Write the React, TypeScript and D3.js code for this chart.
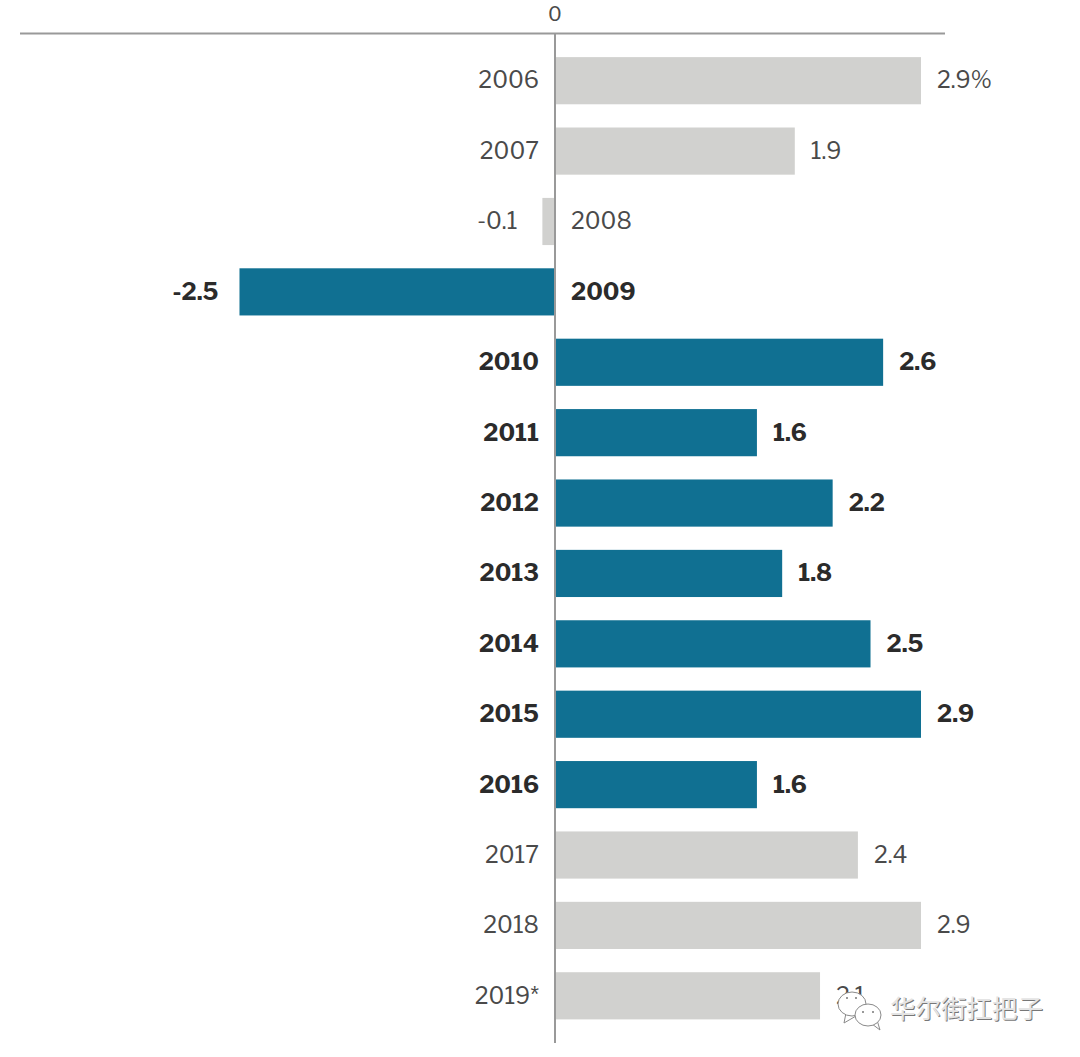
import React from 'react';
import * as d3 from 'd3';

const years = ['2006', '2007', '2008', '2009', '2010', '2011', '2012', '2013', '2014', '2015', '2016', '2017', '2018', '2019*'];
const values = [2.9, 1.9, -0.1, -2.5, 2.6, 1.6, 2.2, 1.8, 2.5, 2.9, 1.6, 2.4, 2.9, 2.1];
const valueLabels = ['2.9%', '1.9', '-0.1', '-2.5', '2.6', '1.6', '2.2', '1.8', '2.5', '2.9', '1.6', '2.4', '2.9', '2.1'];
const highlighted = ['2009', '2010', '2011', '2012', '2013', '2014', '2015', '2016'];
const watermark = '华尔街扛把子';

const width = 1080;
const height = 1057;
const font = '"Libre Franklin", "Open Sans", "Liberation Sans", sans-serif';

// wechat logo + account name pasted over the last row
function Watermark() {
  const bubble = { fill: '#fff', stroke: '#8a8a8a', strokeWidth: 1 };
  const cjk = '"Noto Sans CJK SC", sans-serif';
  return (
    <g>
      <path d="M846 1013 L844 1023 L856 1016 Z" {...bubble} />
      <ellipse cx={852} cy={1004} rx={14} ry={12} {...bubble} />
      <path d="M872 1024 L880 1030 L877 1020 Z" {...bubble} />
      <ellipse cx={868} cy={1015} rx={13} ry={11} {...bubble} />
      <circle cx={863} cy={1012} r={1} fill="#777" />
      <circle cx={873} cy={1012} r={1} fill="#777" />
      <circle cx={847} cy={998} r={1} fill="#777" />
      <circle cx={856} cy={998} r={1} fill="#777" />
      <text x={1044} y={1019} textAnchor="end" fontSize={25.5} fontFamily={cjk} fill="#777">{watermark}</text>
      <text x={1043} y={1018} textAnchor="end" fontSize={25.5} fontFamily={cjk} fill="#e4e4e4">{watermark}</text>
    </g>
  );
}

export default function App() {
  const x = d3.scaleLinear().domain([0, 2.9]).range([555, 921]);
  const y = d3.scaleBand<string>().domain(years).range([45.5, 1031]).paddingInner(0.33).paddingOuter(0.165);

  return (
    <svg width={width} height={height} style={{ position: 'absolute', left: 0, top: 0, background: '#fff', fontVariantNumeric: 'lining-nums' }} fontFamily={font}>
      <text x={x(0)} y={21} textAnchor="middle" fontSize={20} fill="#4a4a4a">0</text>
      <line x1={20} x2={945} y1={33.5} y2={33.5} stroke="#999" strokeWidth={2} />
      {years.map((yr, i) => {
        const v = values[i];
        const bold = highlighted.includes(yr);
        const top = y(yr)!;
        const mid = top + y.bandwidth() / 2;
        const neg = v < 0;
        const weight = bold ? 700 : 400;
        const color = bold ? '#2b2b2b' : '#4a4a4a';
        const size = bold ? 23.5 : 23;
        const negGap = bold ? 21 : 25;
        return (
          <g key={yr}>
            <rect x={neg ? x(v) : x(0)} y={top} width={Math.abs(x(v) - x(0))} height={y.bandwidth()} fill={bold ? '#107092' : '#d1d1cf'} />
            <text x={neg ? 571 : 539} y={mid - 0.5} dy="0.36em" textAnchor={neg ? 'start' : 'end'} fontSize={size} fontWeight={weight} fill={color}>{yr}</text>
            <text x={neg ? x(v) - negGap : x(v) + 16} y={mid - 0.5} dy="0.36em" textAnchor={neg ? 'end' : 'start'} fontSize={size} fontWeight={weight} fill={color}>{valueLabels[i]}</text>
          </g>
        );
      })}
      <line x1={x(0)} x2={x(0)} y1={33} y2={1043} stroke="#999" strokeWidth={2} />
      <Watermark />
    </svg>
  );
}
